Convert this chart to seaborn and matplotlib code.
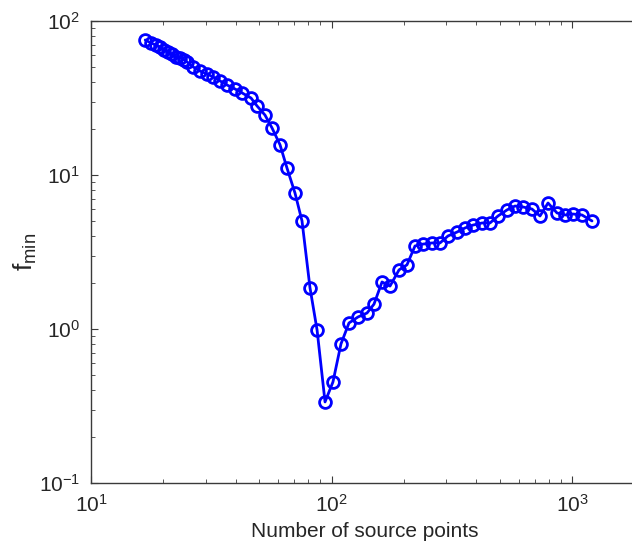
import matplotlib
matplotlib.use("Agg")
import matplotlib.pyplot as plt
import seaborn as sns
import pandas as pd
import numpy as np
from matplotlib.ticker import LogLocator, NullFormatter

# Number of source points and the corresponding minimum objective value
n_points = [16.8, 17.8, 18.6, 19.4, 20.1, 20.9, 21.7, 22.6, 23.5, 24.4,
            25.1, 26.6, 28.4, 30.4, 32.2, 34.4, 36.8, 39.7, 42.5, 46.3,
            49.0, 52.9, 56.6, 61.1, 65.3, 70.5, 75.4, 81.4, 87.1, 94.0,
            101.4, 109.5, 118.2, 128.9, 140.5, 150.2, 162.2, 175.1, 190.9, 206.0,
            222.4, 240.2, 261.8, 282.6, 305.1, 332.5, 359.1, 387.7, 422.6, 456.1,
            492.4, 536.6, 579.4, 625.6, 681.9, 736.2, 794.9, 866.3, 935.2, 1009.7,
            1100.5, 1211.0]
f_min = [75.3, 71.9, 69.8, 67.8, 64.8, 62.9, 61.0, 58.4, 57.5, 55.8,
         54.2, 50.3, 47.3, 45.3, 43.3, 40.8, 38.4, 36.2, 34.1, 31.6,
         28.1, 24.5, 20.2, 15.7, 11.1, 7.64, 5.03, 1.85, 0.985, 0.336,
         0.453, 0.80, 1.094, 1.197, 1.27, 1.45, 2.02, 1.90, 2.42, 2.61,
         3.46, 3.56, 3.62, 3.62, 4.02, 4.26, 4.53, 4.73, 4.88, 4.88,
         5.42, 5.93, 6.29, 6.20, 6.01, 5.42, 6.58, 5.67, 5.50, 5.58,
         5.50, 5.03]

x_limits = (10, 2000)
y_limits = (0.1, 100)

df = pd.DataFrame({"n": n_points, "f": f_min})

sns.set_style("white")
plt.rcParams["font.family"] = ["Liberation Sans", "DejaVu Sans"]
plt.rcParams["mathtext.fontset"] = "custom"
plt.rcParams["mathtext.rm"] = "Liberation Sans"
plt.rcParams["mathtext.it"] = "Liberation Sans"
plt.rcParams["axes.unicode_minus"] = False

W, H = 632, 546
fig = plt.figure(figsize=(W / 100, H / 100), dpi=100)
# axes run slightly past the right edge of the figure
ax_w = np.log10(x_limits[1] / x_limits[0]) * 240.5
ax = fig.add_axes([91 / W, 63 / H, ax_w / W, 462 / H])

sns.lineplot(data=df, x="n", y="f", ax=ax, color="#0000ff", linewidth=2.0,
             marker="o", markersize=8.5, markerfacecolor="none",
             markeredgecolor="#0000ff", markeredgewidth=2.0,
             sort=False, estimator=None)

ax.set_xscale("log")
ax.set_yscale("log")
ax.set_xlim(*x_limits)
ax.set_ylim(*y_limits)

ax.xaxis.set_major_locator(LogLocator(base=10, numticks=10))
ax.xaxis.set_minor_locator(LogLocator(base=10, subs=range(2, 10), numticks=20))
ax.yaxis.set_major_locator(LogLocator(base=10, numticks=10))
ax.yaxis.set_minor_locator(LogLocator(base=10, subs=range(2, 10), numticks=20))
ax.xaxis.set_minor_formatter(NullFormatter())
ax.yaxis.set_minor_formatter(NullFormatter())

spine_color = "#3a3a3a"
for side in ["left", "top", "bottom"]:
    ax.spines[side].set_visible(True)
    ax.spines[side].set_color(spine_color)
    ax.spines[side].set_linewidth(1.0)
ax.spines["right"].set_visible(False)

ax.tick_params(which="both", direction="in", top=True, bottom=True,
               left=True, right=False, color=spine_color)
ax.tick_params(which="major", length=5, width=0.8, labelsize=15, pad=8)
ax.tick_params(which="minor", length=3, width=0.6)

ax.set_xlabel("Number of source points", fontsize=15)
ax.set_ylabel(r"$\mathregular{f_{min}}$", fontsize=19)
ax.xaxis.set_label_coords((365 - 91) / ax_w, -0.085)
ax.yaxis.set_label_coords(-52 / ax_w, 0.5)

fig.savefig("out.png", dpi=100)
